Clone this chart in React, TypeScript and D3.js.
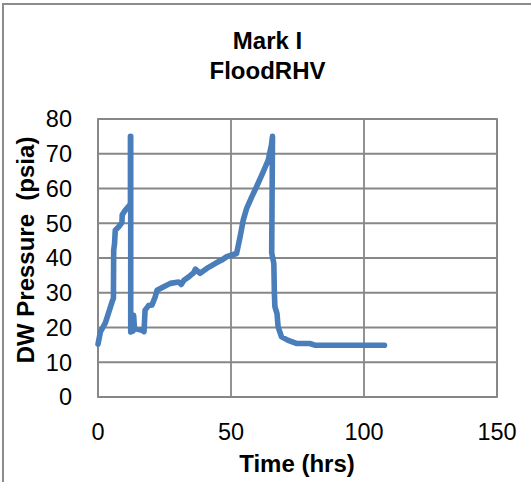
import React from "react";
import * as d3 from "d3";

const titleLines = ["Mark I", "FloodRHV"];
const xTicks = [0, 50, 100, 150];
const yTicks = [0, 10, 20, 30, 40, 50, 60, 70, 80];
const xLabel = "Time (hrs)";
const yLabel = "DW Pressure\u00a0\u00a0(psia)";

const timeHrs = [
  0.0, 0.9, 2.8, 4.0, 5.3, 5.8, 5.9, 6.2, 6.5, 7.8, 9.0, 9.1, 10.3, 11.9, 12.2, 12.2, 12.3, 12.3,
  13.2, 13.4, 13.7, 16.5, 17.3, 17.7, 19.0, 20.3, 21.5, 22.2, 24.7, 27.2, 30.3, 31.3, 32.3, 34.0,
  36.0, 36.6, 38.4, 40.9, 44.0, 46.5, 48.4, 50.9, 52.1, 53.4, 54.6, 55.9, 57.8, 59.6, 62.1, 64.0,
  65.2, 65.6, 65.3, 66.1, 66.3, 66.5, 67.3, 67.7, 69.0, 71.5, 74.6, 79.6, 81.5, 107.7,
];
const pressurePsia = [
  15.2, 18.7, 21.4, 24.3, 27.4, 28.4, 42.3, 44.0, 48.0, 49.0, 50.2, 52.4, 53.8, 55.2, 56.0, 75.0, 75.0, 18.7,
  19.0, 23.5, 19.8, 19.2, 18.8, 25.0, 26.3, 26.5, 28.8, 30.7, 31.7, 32.7, 33.1, 32.4, 33.6, 34.5,
  35.8, 36.8, 35.6, 37.0, 38.4, 39.4, 40.4, 41.0, 41.3, 46.0, 50.9, 54.3, 57.6, 60.5, 64.8, 68.2,
  72.5, 75.0, 41.5, 38.4, 30.0, 26.0, 24.0, 20.2, 17.3, 16.3, 15.4, 15.4, 14.9, 14.9,
];

const W = 531;
const H = 482;
const plot = { left: 98, right: 497, top: 119, bottom: 397 };
const font = "Arial, 'Liberation Sans', Helvetica, sans-serif";
const gridColor = "#878787";
const lineColor = "#4A7EBB";

export default function App() {
  const x = d3.scaleLinear().domain([0, 150]).range([plot.left, plot.right]);
  const y = d3.scaleLinear().domain([0, 80]).range([plot.bottom, plot.top]);
  const data = timeHrs.map((t, i) => [t, pressurePsia[i]] as [number, number]);
  const line = d3
    .line<[number, number]>()
    .x((d) => x(d[0]))
    .y((d) => y(d[1]));

  return (
    <svg
      width={W}
      height={H}
      style={{ position: "absolute", left: 0, top: 0, background: "#fff" }}
    >
      <rect x={0} y={0} width={W} height={H} fill="#fff" />
      <rect x={3} y={4} width={W + 20} height={H + 20} fill="#fff" stroke="#8c8c8c" strokeWidth={2} />
      {titleLines.map((t, i) => (
        <text
          key={t}
          x={267.5}
          y={48.5 + i * 30}
          textAnchor="middle"
          fontFamily={font}
          fontWeight="bold"
          fontSize={24}
          fill="#000"
        >
          {t}
        </text>
      ))}
      {yTicks.map((v) => (
        <line
          key={"gy" + v}
          x1={plot.left}
          x2={plot.right}
          y1={y(v)}
          y2={y(v)}
          stroke={gridColor}
          strokeWidth={1.8}
        />
      ))}
      {xTicks.map((v) => (
        <line
          key={"gx" + v}
          x1={x(v)}
          x2={x(v)}
          y1={plot.top}
          y2={plot.bottom}
          stroke={gridColor}
          strokeWidth={1.8}
        />
      ))}
      <rect
        x={plot.left}
        y={plot.top}
        width={plot.right - plot.left}
        height={plot.bottom - plot.top}
        fill="none"
        stroke={gridColor}
        strokeWidth={1.8}
      />
      {yTicks.map((v) => (
        <text
          key={"ty" + v}
          x={72}
          y={y(v)}
          dy="0.36em"
          textAnchor="end"
          fontFamily={font}
          fontSize={23.5}
          fill="#000"
        >
          {v}
        </text>
      ))}
      {xTicks.map((v) => (
        <text
          key={"tx" + v}
          x={x(v)}
          y={439.5}
          textAnchor="middle"
          fontFamily={font}
          fontSize={23.5}
          fill="#000"
        >
          {v}
        </text>
      ))}
      <path
        d={line(data) || ""}
        fill="none"
        stroke={lineColor}
        strokeWidth={5.6}
        strokeLinejoin="round"
        strokeLinecap="round"
      />
      <text
        x={297}
        y={471.5}
        textAnchor="middle"
        fontFamily={font}
        fontWeight="bold"
        fontSize={24}
        fill="#000"
      >
        {xLabel}
      </text>
      <text
        transform={`translate(34.3,250) rotate(-90)`}
        textAnchor="middle"
        fontFamily={font}
        fontWeight="bold"
        fontSize={24}
        fill="#000"
      >
        {yLabel}
      </text>
    </svg>
  );
}
